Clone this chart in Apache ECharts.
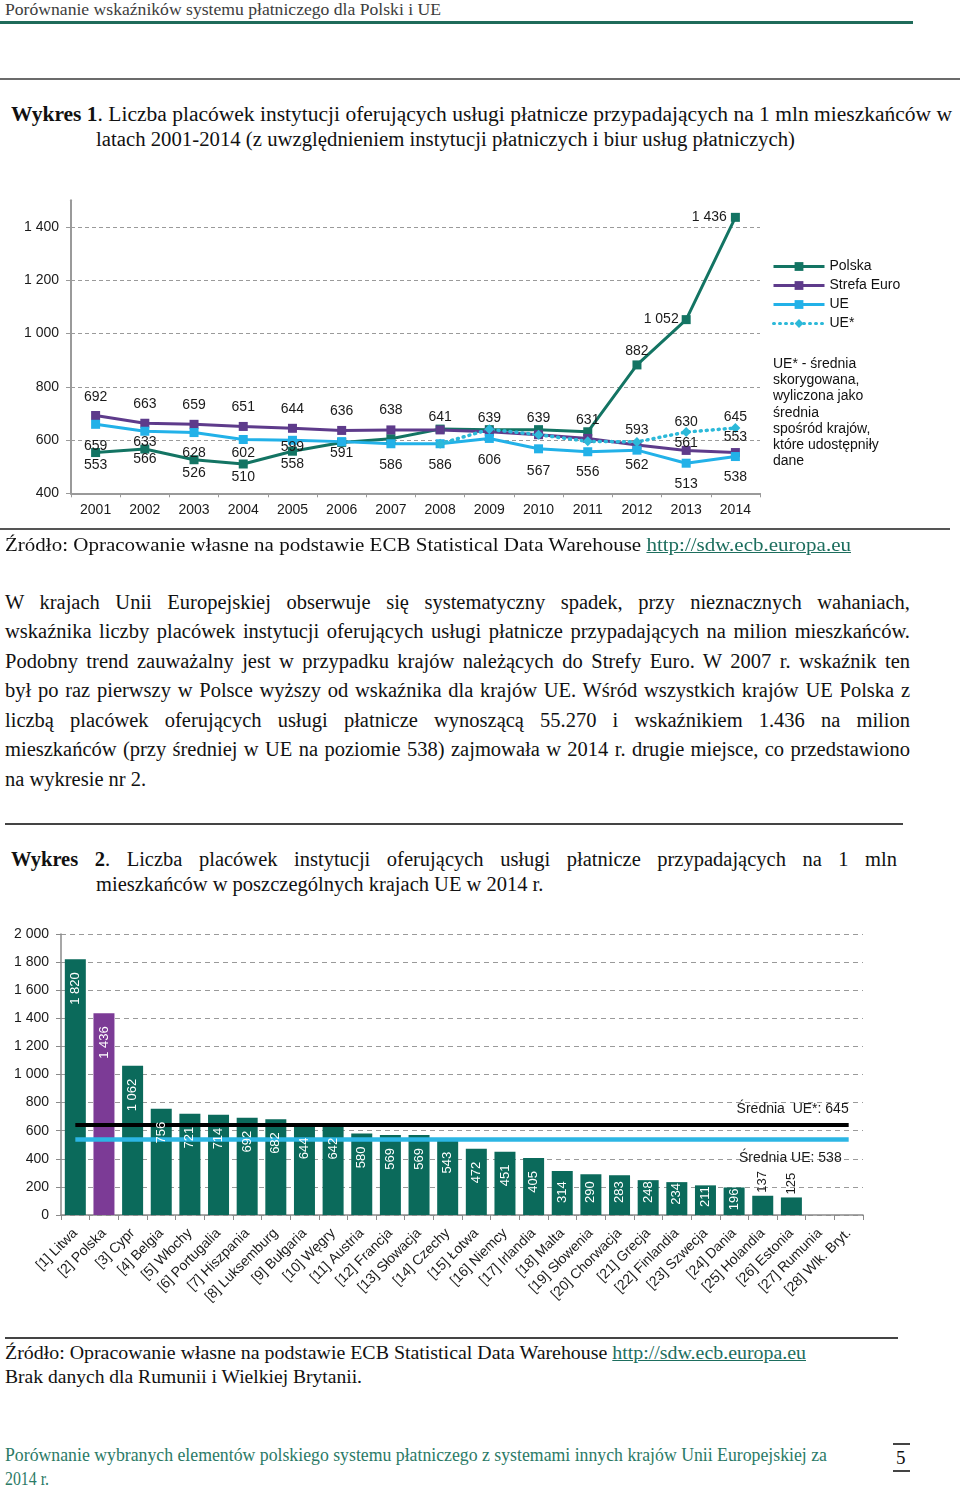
<!DOCTYPE html>
<html><head><meta charset="utf-8">
<script src="https://cdn.jsdelivr.net/npm/echarts@6/dist/echarts.min.js"></script>
<style>
body{margin:0;width:960px;height:1486px;position:relative;background:#fff;overflow:hidden;font-family:"Liberation Serif",serif;color:#111;}
.t{position:absolute;white-space:nowrap;line-height:1;transform-origin:0 50%;}
.j{position:absolute;white-space:nowrap;text-align:justify;text-align-last:justify;line-height:1;}
.hr{position:absolute;}
#c1{position:absolute;left:0;top:190px;width:960px;height:340px;}
#c2{position:absolute;left:0;top:915px;width:960px;height:400px;}
a{color:#1d6e5e;text-decoration:underline;}
</style></head>
<body>
<div class="t fit" data-w="436" style="left:5px;top:1px;font-size:17px;color:#3c3c3c">Porównanie wskaźników systemu płatniczego dla Polski i UE</div>
<div class="hr" style="left:0;top:21px;width:913px;height:3px;background:#1f6b5a"></div>
<div class="hr" style="left:0;top:78px;width:960px;height:2px;background:#6b6b6b"></div>
<div class="t fit" data-w="941" style="left:11px;top:104px;font-size:20px"><b>Wykres 1</b>. Liczba placówek instytucji oferujących usługi płatnicze przypadających na 1 mln mieszkańców w</div>
<div class="t fit" data-w="699" style="left:96px;top:129px;font-size:20px">latach 2001-2014 (z uwzględnieniem instytucji płatniczych i biur usług płatniczych)</div>

<div id="c1"></div>

<div class="hr" style="left:0;top:528px;width:950px;height:1.5px;background:#555"></div>
<div class="t fit" data-w="846" style="left:5px;top:535px;font-size:19.5px">Źródło: Opracowanie własne na podstawie ECB Statistical Data Warehouse <a>http://sdw.ecb.europa.eu</a></div>

<div class="j" style="left:5px;top:592px;width:905px;font-size:20.5px">W krajach Unii Europejskiej obserwuje się systematyczny spadek, przy nieznacznych wahaniach,</div>
<div class="j" style="left:5px;top:621px;width:905px;font-size:20.5px">wskaźnika liczby placówek instytucji oferujących usługi płatnicze przypadających na milion mieszkańców.</div>
<div class="j" style="left:5px;top:651px;width:905px;font-size:20.5px">Podobny trend zauważalny jest w przypadku krajów należących do Strefy Euro. W 2007 r. wskaźnik ten</div>
<div class="j" style="left:5px;top:680px;width:905px;font-size:20.5px">był po raz pierwszy w Polsce wyższy od wskaźnika dla krajów UE. Wśród wszystkich krajów UE Polska z</div>
<div class="j" style="left:5px;top:710px;width:905px;font-size:20.5px">liczbą placówek oferujących usługi płatnicze wynoszącą 55.270 i wskaźnikiem 1.436 na milion</div>
<div class="j" style="left:5px;top:739px;width:905px;font-size:20.5px">mieszkańców (przy średniej w UE na poziomie 538) zajmowała w 2014 r. drugie miejsce, co przedstawiono</div>
<div class="t" style="left:5px;top:769px;font-size:20.5px">na wykresie nr 2.</div>

<div class="hr" style="left:5px;top:823px;width:898px;height:1.5px;background:#444"></div>

<div class="j" style="left:11px;top:849px;width:886px;font-size:20.5px"><b>Wykres 2</b>. Liczba placówek instytucji oferujących usługi płatnicze przypadających na 1 mln</div>
<div class="t" style="left:96px;top:874px;font-size:20.5px">mieszkańców w poszczególnych krajach UE w 2014 r.</div>

<div id="c2"></div>

<div class="hr" style="left:5px;top:1337px;width:893px;height:1.5px;background:#444"></div>
<div class="t fit" data-w="801" style="left:5px;top:1343px;font-size:19.5px">Źródło: Opracowanie własne na podstawie ECB Statistical Data Warehouse <a>http://sdw.ecb.europa.eu</a></div>
<div class="t fit" data-w="357" style="left:5px;top:1367px;font-size:19.5px">Brak danych dla Rumunii i Wielkiej Brytanii.</div>

<div class="t fit" data-w="822" style="left:5px;top:1445px;font-size:19px;color:#2b7a66">Porównanie wybranych elementów polskiego systemu płatniczego z systemami innych krajów Unii Europejskiej za</div>
<div class="t fit" data-w="44" style="left:5px;top:1469px;font-size:19px;color:#2b7a66">2014 r.</div>
<div class="hr" style="left:893px;top:1443px;width:17px;height:1.5px;background:#444"></div>
<div class="t" style="left:896px;top:1448px;font-size:19px">5</div>
<div class="hr" style="left:893px;top:1470px;width:17px;height:1.5px;background:#444"></div>

<script>
// ---------- DATA: Wykres 1 ----------
const years = ['2001','2002','2003','2004','2005','2006','2007','2008','2009','2010','2011','2012','2013','2014'];
const polska = [553, 566, 526, 510, 558, 591, 605, 641, 639, 639, 631, 882, 1052, 1436];
const strefaEuro = [692, 663, 659, 651, 644, 636, 638, 638, 631, 620, 606, 581, 561, 553];
const ue = [659, 633, 628, 602, 599, 594, 586, 586, 606, 567, 556, 562, 513, 538];
const ueStar = [null, null, null, null, null, null, null, 586, 640, 620, 595, 593, 630, 645];
const yTicks1 = [400, 600, 800, 1000, 1200, 1400];
const noteText = 'UE* - średnia\nskorygowana,\nwyliczona jako\nśrednia\nspośród krajów,\nktóre udostępniły\ndane';

// ---------- DATA: Wykres 2 ----------
const countries = ['[1] Litwa','[2] Polska','[3] Cypr','[4] Belgia','[5] Włochy','[6] Portugalia','[7] Hiszpania','[8] Luksemburg','[9] Bułgaria','[10] Węgry','[11] Austria','[12] Francja','[13] Słowacja','[14] Czechy','[15] Łotwa','[16] Niemcy','[17] Irlandia','[18] Malta','[19] Słowenia','[20] Chorwacja','[21] Grecja','[22] Finlandia','[23] Szwecja','[24] Dania','[25] Holandia','[26] Estonia','[27] Rumunia','[28] Wlk. Bryt.'];
const values2 = [1820, 1436, 1062, 756, 721, 714, 692, 682, 644, 642, 580, 569, 569, 543, 472, 451, 405, 314, 290, 283, 248, 234, 211, 196, 137, 125, null, null];
const meanUEstar = 645;
const meanUE = 538;

// ---------- text fitting ----------
document.querySelectorAll('.fit').forEach(el => {
  const w = parseFloat(el.dataset.w);
  const nat = el.getBoundingClientRect().width;
  if (nat > 0) el.style.transform = 'scaleX(' + (w / nat) + ')';
});
document.querySelectorAll('.j').forEach(el => {
  const s = document.createElement('span');
  s.style.cssText = 'position:absolute;visibility:hidden;white-space:nowrap;font-size:' + el.style.fontSize;
  s.innerHTML = el.innerHTML;
  document.body.appendChild(s);
  const nat = s.getBoundingClientRect().width;
  const W = parseFloat(el.style.width);
  if (nat > W - 10) el.style.letterSpacing = ((W - 10 - nat) / el.textContent.length) + 'px';
  s.remove();
});

const fmt = v => String(v).replace(/\B(?=(\d{3})+(?!\d))/g, ' ');
const FONT = '"Liberation Sans", Arial, sans-serif';

// ---------- Chart 1 ----------
const cPol = '#137463', cStr = '#5e3b8b', cUE = '#22b1e8', cUEs = '#2cb9d9';
const polPos = ['bottom','bottom','bottom','bottom','bottom','bottom',null,'top','top','top','top','top','left','left'];
const polDist = [1,-1,2,2,1,-1,0,0,0,0,0,2,3,4];
const strPos = ['top','top','top','top','top','top','top',null,null,null,null,null,'top','top'];
const strDist = [7,8,8,8,8,8,8,0,0,0,0,0,-4,4];
const uePos = ['bottom','bottom','bottom','bottom','bottom',null,'bottom','bottom','bottom','bottom','bottom','bottom','bottom','bottom'];
const ueDist = [10,-1,9,2,-5,0,10,10,10,11,9,3,9,9];
const uesPos = [null,null,null,null,null,null,null,null,null,null,null,'top','top','top'];
const uesDist = [0,0,0,0,0,0,0,0,0,0,0,0,-2,-1];

function lineData(vals, pos, dist) {
  return vals.map((v, i) => {
    if (v == null) return '-';
    const lab = pos[i] ? {show: true, position: pos[i], distance: dist[i]} : {show: false};
    return {value: v, label: lab};
  });
}
const lblBase = {fontFamily: FONT, fontSize: 14, color: '#1a1a1a', formatter: p => fmt(p.value)};

const c1 = echarts.init(document.getElementById('c1'), null, {renderer: 'canvas'});
c1.setOption({
  animation: false,
  textStyle: {fontFamily: FONT},
  grid: {left: 71, top: 10.3, width: 689, height: 293, containLabel: false},
  legend: {
    orient: 'vertical', left: 767, top: 64, itemWidth: 51, itemHeight: 11, itemGap: 4,
    selectedMode: false, textStyle: {fontFamily: FONT, fontSize: 14, color: '#111', lineHeight: 15},
    lineStyle: {width: 3},
    data: ['Polska', 'Strefa Euro', 'UE', 'UE*']
  },
  graphic: [{type: 'text', left: 773, top: 166, style: {text: noteText, font: '14px ' + FONT, fill: '#111', lineHeight: 16.2}}],
  xAxis: {
    type: 'category', data: years, boundaryGap: true,
    axisLine: {lineStyle: {color: '#9a9a9a', width: 2}},
    axisTick: {show: true, length: 4, lineStyle: {color: '#9a9a9a'}},
    axisLabel: {fontSize: 14, color: '#1a1a1a', margin: 10, fontFamily: FONT}
  },
  yAxis: {
    type: 'value', min: 400, max: 1500, interval: 200,
    axisLine: {show: true, lineStyle: {color: '#9a9a9a', width: 2}},
    axisTick: {show: true, length: 5, customValues: yTicks1, lineStyle: {color: '#9a9a9a'}},
    axisLabel: {fontSize: 14, color: '#1a1a1a', margin: 12, fontFamily: FONT, customValues: yTicks1, formatter: v => fmt(v)},
    splitLine: {show: true, lineStyle: {color: '#9a9a9a', type: [4, 3], width: 1}}
  },
  series: [
    {name: 'Polska', type: 'line', data: lineData(polska, polPos, polDist), symbol: 'rect', symbolSize: 9,
     lineStyle: {color: cPol, width: 3}, itemStyle: {color: cPol}, label: lblBase, clip: false},
    {name: 'Strefa Euro', type: 'line', data: lineData(strefaEuro, strPos, strDist), symbol: 'rect', symbolSize: 9,
     lineStyle: {color: cStr, width: 3}, itemStyle: {color: cStr}, label: lblBase},
    {name: 'UE', type: 'line', data: lineData(ue, uePos, ueDist), symbol: 'rect', symbolSize: 9,
     lineStyle: {color: cUE, width: 3}, itemStyle: {color: cUE}, label: lblBase},
    {name: 'UE*', type: 'line', data: lineData(ueStar, uesPos, uesDist), symbol: 'diamond', symbolSize: 10,
     lineStyle: {color: cUEs, width: 3.5, type: [1, 5], cap: 'round'}, itemStyle: {color: cUEs}, label: lblBase}
  ]
});

// ---------- Chart 2 ----------
const cBar = '#0b6a5b', cBarPL = '#7c3b96', cMeanStar = '#000000', cMean = '#2cb6e4';
const plotH2 = 281, yMax2 = 2000;
const meas = document.createElement('canvas').getContext('2d');
meas.font = '13px ' + FONT;
const barData = values2.map((v, i) => v == null ? '-' :
  ({value: v, itemStyle: {color: countries[i].indexOf('Polska') >= 0 ? cBarPL : cBar}}));
const labelData = values2.map((v, i) => {
  if (v == null) return '-';
  const len = meas.measureText(fmt(v)).width;
  const h = v / yMax2 * plotH2;
  let label;
  if (h >= len + 2) {
    const d = Math.max(1, Math.min(13, h - len - 12));
    label = {show: true, position: 'insideTop', rotate: 90, align: 'right', verticalAlign: 'middle', distance: d, color: '#ffffff'};
  } else {
    label = {show: true, position: 'top', rotate: 90, align: 'left', verticalAlign: 'middle', distance: 3, color: '#1a1a1a'};
  }
  return {value: v, label: label};
});

const c2 = echarts.init(document.getElementById('c2'), null, {renderer: 'canvas'});
c2.setOption({
  animation: false,
  textStyle: {fontFamily: FONT},
  grid: {left: 61, top: 19, width: 802, height: 281, containLabel: false},
  xAxis: {
    type: 'category', data: countries, boundaryGap: true,
    axisLine: {lineStyle: {color: '#8a8a8a', width: 1.5}},
    axisTick: {show: true, length: 5, lineStyle: {color: '#8a8a8a'}},
    axisLabel: {interval: 0, rotate: 45, fontSize: 14, color: '#1a1a1a', margin: 16, fontFamily: FONT}
  },
  yAxis: {
    type: 'value', min: 0, max: 2000, interval: 200,
    axisLine: {show: true, lineStyle: {color: '#8a8a8a', width: 1.5}},
    axisTick: {show: true, length: 5, lineStyle: {color: '#8a8a8a'}},
    axisLabel: {fontSize: 14, color: '#1a1a1a', margin: 12, fontFamily: FONT, formatter: v => fmt(v)},
    splitLine: {show: true, lineStyle: {color: '#9a9a9a', type: [5, 4], width: 1}}
  },
  series: [{
    type: 'bar', data: barData, barWidth: 21, barGap: '-100%', z: 2,
    label: {show: false},
    markLine: {
      silent: true, symbol: 'none', animation: false, z: 5,
      data: [
        [{coord: [countries[0], meanUEstar], lineStyle: {color: cMeanStar, width: 4, type: 'solid'},
          label: {show: true, position: 'insideEndTop', distance: [0, 8], formatter: 'Średnia  UE*: ' + meanUEstar, fontFamily: FONT, fontSize: 14, color: '#1a1a1a'}},
         {coord: [countries[countries.length - 1], meanUEstar]}],
        [{coord: [countries[0], meanUE], lineStyle: {color: cMean, width: 4.5, type: 'solid'},
          label: {show: true, position: 'insideEndBottom', distance: [7, 12], formatter: 'Średnia UE: ' + meanUE, fontFamily: FONT, fontSize: 14, color: '#1a1a1a'}},
         {coord: [countries[countries.length - 1], meanUE]}]
      ]
    }
  }, {
    type: 'bar', data: labelData, barWidth: 21, barGap: '-100%', z: 10,
    itemStyle: {color: 'rgba(0,0,0,0)'}, silent: true,
    label: {fontFamily: FONT, fontSize: 13, formatter: p => fmt(p.value)}
  }]
});
</script>
</body></html>
